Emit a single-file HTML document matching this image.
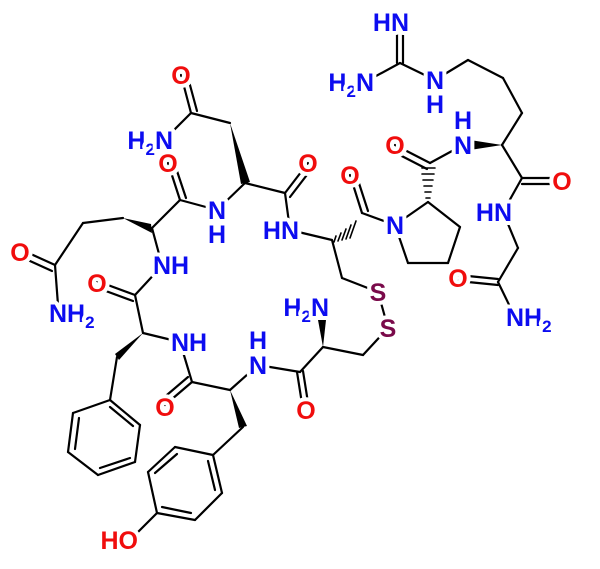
<!DOCTYPE html>
<html><head><meta charset="utf-8"><style>
html,body{margin:0;padding:0;background:#fff}
svg text{font-family:"Liberation Sans",Arial,sans-serif;font-weight:bold;font-size:25px;paint-order:stroke;stroke:#fff;stroke-width:8px;stroke-linejoin:round}
.b{fill:#0c0cf0}.r{fill:#f00d0d}.s{fill:#7a0a4a}
</style></head><body>
<svg width="600" height="564" viewBox="0 0 600 564" xmlns="http://www.w3.org/2000/svg">
<g stroke="#000" stroke-width="2.2" fill="none" stroke-linecap="round">
<line x1="191" y1="113" x2="164" y2="140"/>
<line x1="191" y1="113" x2="230" y2="123"/>
<line x1="191" y1="113" x2="181" y2="75"/><line x1="197" y1="111" x2="187" y2="74"/>
<line x1="245" y1="183" x2="285" y2="193"/>
<line x1="285" y1="193" x2="308" y2="163"/><line x1="290" y1="197" x2="313" y2="167"/>
<line x1="285" y1="193" x2="290" y2="230"/>
<line x1="290" y1="230" x2="332" y2="240"/>
<line x1="332" y1="240" x2="342" y2="278"/>
<line x1="362" y1="213" x2="395" y2="225"/>
<line x1="362" y1="213" x2="350" y2="175"/><line x1="368" y1="211" x2="356" y2="174"/>
<line x1="395" y1="225" x2="428" y2="202"/>
<line x1="428" y1="202" x2="460" y2="227"/>
<line x1="460" y1="227" x2="448" y2="263"/>
<line x1="448" y1="263" x2="408" y2="263"/>
<line x1="408" y1="263" x2="395" y2="225"/>
<line x1="430" y1="163" x2="463" y2="145"/>
<line x1="430" y1="163" x2="395" y2="145"/><line x1="427" y1="169" x2="392" y2="151"/>
<line x1="502" y1="145" x2="522" y2="113"/>
<line x1="522" y1="113" x2="503" y2="78"/>
<line x1="503" y1="78" x2="468" y2="60"/>
<line x1="468" y1="60" x2="435" y2="80"/>
<line x1="435" y1="80" x2="400" y2="63"/>
<line x1="400" y1="63" x2="365" y2="82"/>
<line x1="397" y1="63" x2="397" y2="22"/><line x1="403" y1="63" x2="403" y2="22"/>
<line x1="502" y1="145" x2="522" y2="178"/>
<line x1="522" y1="178" x2="560" y2="178"/><line x1="522" y1="184" x2="560" y2="184"/>
<line x1="522" y1="178" x2="503" y2="212"/>
<line x1="503" y1="212" x2="518" y2="248"/>
<line x1="518" y1="248" x2="498" y2="282"/>
<line x1="498" y1="279" x2="458" y2="275"/><line x1="498" y1="285" x2="458" y2="281"/>
<line x1="498" y1="282" x2="515" y2="317"/>
<line x1="342" y1="278" x2="378" y2="292"/>
<line x1="378" y1="292" x2="388" y2="328"/>
<line x1="388" y1="328" x2="363" y2="355"/>
<line x1="363" y1="355" x2="323" y2="347"/>
<line x1="323" y1="347" x2="300" y2="372"/>
<line x1="297" y1="372" x2="303" y2="410"/><line x1="303" y1="371" x2="309" y2="409"/>
<line x1="300" y1="372" x2="258" y2="365"/>
<line x1="258" y1="365" x2="230" y2="390"/>
<line x1="230" y1="390" x2="192" y2="382"/>
<line x1="192" y1="382" x2="180" y2="342"/>
<line x1="192" y1="382" x2="165" y2="405"/><line x1="188" y1="377" x2="161" y2="400"/>
<line x1="243" y1="427" x2="213" y2="455"/>
<line x1="213" y1="455" x2="222" y2="493"/>
<line x1="222" y1="493" x2="195" y2="520"/>
<line x1="195" y1="520" x2="157" y2="513"/>
<line x1="157" y1="513" x2="148" y2="472"/>
<line x1="148" y1="472" x2="175" y2="447"/>
<line x1="175" y1="447" x2="213" y2="455"/>
<line x1="215" y1="490" x2="208" y2="461"/><line x1="191" y1="513" x2="162" y2="507"/><line x1="155" y1="473" x2="177" y2="454"/>
<line x1="157" y1="513" x2="135" y2="535"/>
<line x1="180" y1="342" x2="143" y2="333"/>
<line x1="143" y1="333" x2="135" y2="295"/>
<line x1="135" y1="295" x2="97" y2="281"/><line x1="133" y1="301" x2="95" y2="287"/>
<line x1="135" y1="295" x2="160" y2="268"/>
<line x1="117" y1="357" x2="110" y2="400"/>
<line x1="110" y1="400" x2="140" y2="425"/>
<line x1="140" y1="425" x2="135" y2="462"/>
<line x1="135" y1="462" x2="98" y2="475"/>
<line x1="98" y1="475" x2="68" y2="452"/>
<line x1="68" y1="452" x2="73" y2="413"/>
<line x1="73" y1="413" x2="110" y2="400"/>
<line x1="110" y1="407" x2="133" y2="426"/><line x1="130" y1="458" x2="100" y2="468"/><line x1="75" y1="449" x2="79" y2="418"/>
<line x1="162" y1="265" x2="152" y2="228"/>
<line x1="152" y1="228" x2="180" y2="200"/>
<line x1="180" y1="200" x2="217" y2="210"/>
<line x1="180" y1="200" x2="168" y2="163"/><line x1="186" y1="198" x2="174" y2="162"/>
<line x1="217" y1="210" x2="245" y2="183"/>
<line x1="123" y1="218" x2="83" y2="223"/>
<line x1="83" y1="223" x2="55" y2="265"/>
<line x1="55" y1="265" x2="22" y2="250"/><line x1="52" y1="271" x2="19" y2="256"/>
<line x1="55" y1="265" x2="58" y2="305"/>
<g stroke-width="1.6">
<line x1="336" y1="236" x2="334" y2="242"/><line x1="341" y1="233" x2="338" y2="241"/><line x1="346" y1="229" x2="342" y2="240"/><line x1="351" y1="225" x2="346" y2="239"/><line x1="356" y1="221" x2="350" y2="238"/>
<line x1="426" y1="198" x2="430" y2="198"/><line x1="425" y1="192" x2="431" y2="192"/><line x1="424" y1="186" x2="432" y2="186"/><line x1="423" y1="180" x2="433" y2="180"/><line x1="422" y1="174" x2="434" y2="174"/><line x1="422" y1="168" x2="435" y2="168"/>
</g>
</g>
<g fill="#000">
<polygon points="230,123 241,184 250,182"/>
<polygon points="123,218 151,224 152,233"/>
<polygon points="143,333 115,354 119,360"/>
<polygon points="230,390 239,428 247,426"/>
<polygon points="323,347 318,320 326,320"/>
<polygon points="502,145 470,140 470,150"/>
</g>
<text class="r" x="181" y="84" text-anchor="middle">O</text>
<text class="b" x="173" y="149" text-anchor="end">H<tspan font-size="17" dy="6">2</tspan><tspan dy="-6">N</tspan></text>
<text class="r" x="308" y="172" text-anchor="middle">O</text>
<text class="r" x="168" y="172" text-anchor="middle">O</text>
<text class="b" x="217" y="219" text-anchor="middle">N</text>
<text class="b" x="217" y="243" text-anchor="middle">H</text>
<text class="b" x="299" y="239" text-anchor="end">HN</text>
<text class="r" x="350" y="184" text-anchor="middle">O</text>
<text class="b" x="395" y="234" text-anchor="middle">N</text>
<text class="r" x="395" y="154" text-anchor="middle">O</text>
<text class="b" x="463" y="154" text-anchor="middle">N</text>
<text class="b" x="463" y="129" text-anchor="middle">H</text>
<text class="b" x="435" y="89" text-anchor="middle">N</text>
<text class="b" x="435" y="113" text-anchor="middle">H</text>
<text class="b" x="409" y="31" text-anchor="end">HN</text>
<text class="b" x="374" y="91" text-anchor="end">H<tspan font-size="17" dy="6">2</tspan><tspan dy="-6">N</tspan></text>
<text class="r" x="562" y="190" text-anchor="middle">O</text>
<text class="b" x="512" y="221" text-anchor="end">HN</text>
<text class="r" x="458" y="287" text-anchor="middle">O</text>
<text class="b" x="506" y="326">NH<tspan font-size="17" dy="6">2</tspan></text>
<text class="s" x="378" y="301" text-anchor="middle">S</text>
<text class="s" x="388" y="337" text-anchor="middle">S</text>
<text class="b" x="329" y="316" text-anchor="end">H<tspan font-size="17" dy="6">2</tspan><tspan dy="-6">N</tspan></text>
<text class="r" x="306" y="419" text-anchor="middle">O</text>
<text class="b" x="258" y="374" text-anchor="middle">N</text>
<text class="b" x="258" y="349" text-anchor="middle">H</text>
<text class="r" x="165" y="416" text-anchor="middle">O</text>
<text class="b" x="171" y="351">NH</text>
<text class="r" x="97" y="292" text-anchor="middle">O</text>
<text class="b" x="153" y="274">NH</text>
<text class="r" x="20" y="261" text-anchor="middle">O</text>
<text class="b" x="49" y="322">NH<tspan font-size="17" dy="6">2</tspan></text>
<text class="r" x="138" y="549" text-anchor="end">HO</text>
</svg>
</body></html>
